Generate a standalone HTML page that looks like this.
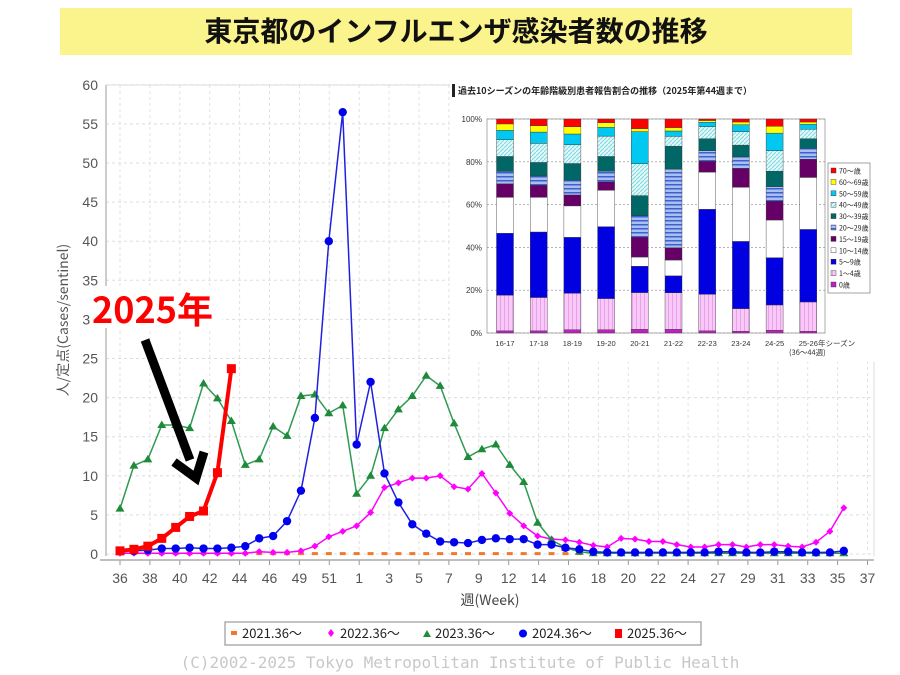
<!DOCTYPE html>
<html><head><meta charset="utf-8">
<style>
html,body{margin:0;padding:0;background:#fff;width:900px;height:675px;overflow:hidden}
svg{display:block;font-family:"Liberation Sans","Noto Sans CJK JP",sans-serif}
</style></head>
<body>
<svg id="s" width="900" height="675" viewBox="0 0 900 675" xmlns="http://www.w3.org/2000/svg">
<rect x="60" y="8" width="792" height="47" fill="#fbf38c"/>
<text x="456" y="41" text-anchor="middle" font-size="28" font-weight="bold" fill="#111" font-family="'Noto Sans CJK JP',sans-serif">東京都のインフルエンザ感染者数の推移</text>
<g id="grid"></g>
<g id="series"></g>
<text transform="translate(68,320) rotate(-90)" text-anchor="middle" font-size="14" fill="#555" font-family="'Noto Sans CJK JP',sans-serif">人/定点(Cases/sentinel)</text>
<text x="490" y="605" text-anchor="middle" font-size="14" fill="#444" font-family="'Noto Sans CJK JP',sans-serif">週(Week)</text>
<rect x="225" y="622" width="476" height="23" fill="#fff" stroke="#999" stroke-width="1.2"/>
<g font-size="13" fill="#222" font-family="'Noto Sans CJK JP',sans-serif">
<rect x="231" y="631" width="6" height="4" fill="#f07a2a"/><text x="242" y="638">2021.36〜</text>
<path d="M331 629 l3 4 -3 4 -3 -4z" fill="#f0f"/><text x="340" y="638">2022.36〜</text>
<path d="M427 630 l4 7 h-8z" fill="#228b3c"/><text x="435" y="638">2023.36〜</text>
<circle cx="523" cy="633.5" r="4" fill="#00f"/><text x="532" y="638">2024.36〜</text>
<rect x="615" y="629" width="7" height="9" fill="#f00"/><text x="627" y="638">2025.36〜</text>
</g>
<text x="460" y="668" text-anchor="middle" font-size="16" fill="#c8c8c8" font-family="'DejaVu Sans Mono',monospace">(C)2002-2025 Tokyo Metropolitan Institute of Public Health</text>
<g id="inset"></g>
<rect x="90" y="286" width="132" height="42" fill="#fff"/>
<text x="92" y="323" font-size="36" font-weight="bold" fill="#f00" font-family="'Noto Sans CJK JP',sans-serif">2025年</text>
<line x1="145" y1="340" x2="190" y2="460" stroke="#000" stroke-width="9"/>
<path d="M174 462 L196 478 L204 452" fill="none" stroke="#000" stroke-width="9" stroke-linejoin="miter"/>
</svg>
<script>
(function(){
var NS="http://www.w3.org/2000/svg";
function el(p,t,a,txt){var e=document.createElementNS(NS,t);for(var k in a)e.setAttribute(k,a[k]);if(txt!=null)e.textContent=txt;p.appendChild(e);return e;}
var g=document.getElementById('grid'),S=document.getElementById('series'),I=document.getElementById('inset');
function Y(v){return 554-v*7.82;}function X(i){return 120+13.92*i;}
for(var v=0;v<=60;v+=5){var y=Y(v);el(g,'line',{x1:106,x2:874,y1:y,y2:y,stroke:'#ddd','stroke-dasharray':'3,3'});el(g,'text',{x:98,y:y+5,'text-anchor':'end','font-size':14,fill:'#555'},v);}
var labs=[36,38,40,42,44,46,49,51,1,3,5,7,9,12,14,16,18,20,22,24,27,29,31,33,35,37];
for(var k=0;k<labs.length;k++){var x=120+k*29.9;el(g,'line',{x1:x,x2:x,y1:85,y2:554,stroke:'#e2e2e2','stroke-dasharray':'3,3'});el(g,'line',{x1:x,x2:x,y1:560,y2:565,stroke:'#999'});el(g,'text',{x:x,y:583,'text-anchor':'middle','font-size':14,fill:'#555'},labs[k]);}
el(g,'line',{x1:106,x2:106,y1:85,y2:556,stroke:'#bbb','stroke-width':1.5});
el(g,'line',{x1:874,x2:874,y1:85,y2:556,stroke:'#ddd'});
el(g,'line',{x1:106,x2:874,y1:85,y2:85,stroke:'#ddd'});
el(g,'line',{x1:100,x2:874,y1:560,y2:560,stroke:'#aaa','stroke-width':1.5});
var red=[0.4,0.6,1.0,2.0,3.4,4.8,5.5,10.4,23.7];
var blue=[0.4,0.4,0.5,0.7,0.7,0.8,0.7,0.7,0.8,1.0,2.0,2.3,4.2,8.1,17.4,40,56.5,14,22,10.3,6.6,3.8,2.6,1.6,1.5,1.4,1.8,2.0,1.9,1.9,1.2,1.2,0.8,0.6,0.3,0.2,0.2,0.2,0.2,0.2,0.2,0.2,0.2,0.3,0.3,0.2,0.2,0.3,0.3,0.2,0.2,0.2,0.4];
var green=[5.8,11.3,12.1,16.5,16.5,16.1,21.8,19.9,17.0,11.4,12.1,16.3,15.1,20.2,20.4,18.0,19.0,7.7,10.0,16.1,18.5,20.2,22.8,21.5,16.7,12.4,13.4,14.0,11.4,9.2,4.0,1.8,0.8,0.3,0.1,0.1,0.1,0.1,0.1,0.1,0.1,0.1,0.1,0.1,0.1,0.1,0.1,0.1,0.1,0.1,0.1,0.1,0.1];
var pink=[0.1,0.1,0.1,0.1,0.1,0.1,0.1,0.1,0.1,0.1,0.3,0.2,0.2,0.4,1.0,2.2,2.9,3.6,5.3,8.5,9.1,9.7,9.7,10.0,8.6,8.3,10.3,7.8,5.2,3.6,2.3,1.9,1.8,1.5,1.1,0.9,2.0,1.9,1.6,1.6,1.2,0.9,0.9,1.2,1.2,0.9,1.2,1.2,1.0,0.9,1.5,2.9,5.9];
for(var i=0;i<53;i++){el(S,'rect',{x:X(i)-3,y:Y(0.05)-1.5,width:6,height:3,fill:'#f07a2a'});}
function line(d,c,w){var p='';for(var i=0;i<d.length;i++)p+=(i?'L':'M')+X(i).toFixed(1)+' '+Y(d[i]).toFixed(1);el(S,'path',{d:p,fill:'none',stroke:c,'stroke-width':w});}
line(pink,'#f0f',1.5);for(var i=0;i<pink.length;i++){var x=X(i),y=Y(pink[i]);el(S,'path',{d:'M'+x+' '+(y-3.5)+'l3.5 3.5-3.5 3.5-3.5-3.5z',fill:'#f0f'});}
line(green,'#2e9a52',1.5);for(var i=0;i<green.length;i++){var x=X(i),y=Y(green[i]);el(S,'path',{d:'M'+x+' '+(y-4.5)+'l4.5 7.5h-9z',fill:'#1f8a3a'});}
line(blue,'#2020e0',1.5);for(var i=0;i<blue.length;i++){el(S,'circle',{cx:X(i),cy:Y(blue[i]),r:4.2,fill:'#0000ee'});}
line(red,'#f00',4);for(var i=0;i<red.length;i++){el(S,'rect',{x:X(i)-4.5,y:Y(red[i])-4.5,width:9,height:9,fill:'#f00'});}
el(I,'rect',{x:450,y:82,width:432,height:280,fill:'#fff'});
el(I,'rect',{x:452,y:84,width:3,height:13,fill:'#222'});
el(I,'text',{x:458,y:94,'font-size':9,'font-weight':'bold',fill:'#222','font-family':"'Noto Sans CJK JP',sans-serif"},'過去10シーズンの年齢階級別患者報告割合の推移（2025年第44週まで）');
var defs=el(I,'defs',{});
function pat(id,bg,fg,vert){var p=el(defs,'pattern',{id:id,width:4,height:4,patternUnits:'userSpaceOnUse'});el(p,'rect',{width:4,height:4,fill:bg});if(vert==1)el(p,'rect',{x:0,y:0,width:1,height:4,fill:fg});else if(vert==2)el(p,'path',{d:'M0 4L4 0',stroke:fg,'stroke-width':1});else el(p,'rect',{x:0,y:0,width:4,height:1.5,fill:fg});}
pat('pk','#f8c8f8','#e8a0e8',1);pat('st','#a8c0f0','#4060d0',0);pat('cy','#e0f8f8','#80d8e0',2);
var cols=['#c020c0','url(#pk)','#0000e0','#ffffff','#660066','url(#st)','#006666','url(#cy)','#00c8f0','#ffff00','#ff0000'];
var names=['0歳','1〜4歳','5〜9歳','10〜14歳','15〜19歳','20〜29歳','30〜39歳','40〜49歳','50〜59歳','60〜69歳','70〜歳'];
var bars=[[1,17.7,46.6,63.4,69.7,75.5,82.5,90.3,94.7,97.7,100],[1,16.6,47.2,63.4,69,73.4,79.7,88.6,93.9,96.9,100],[1.5,18.6,44.7,59.4,64.5,71.4,79.2,88,93,96.4,100],[1.5,16.1,49.7,66.7,70.6,75.6,82.5,92,96.1,98.3,100],[1.7,18.9,31.2,35.5,44.8,54.8,64.2,79.1,94.1,95.5,100],[1.7,18.8,26.7,34.1,39.8,76.6,87.3,91.9,94.4,96,100],[1,18.1,57.8,75.2,80.2,85.2,90.8,96.4,98.5,99.3,100],[0.8,11.4,42.8,68.1,76.9,82.3,87.8,94.1,97.3,98.6,100],[1.3,13.1,35.2,52.8,61.6,68.4,75.6,85.2,93.4,96.6,100],[0.8,14.5,48.4,72.7,81.2,86.3,90.8,95.2,97.5,98.6,100]];
var seas=['16-17','17-18','18-19','19-20','20-21','21-22','22-23','23-24','24-25','25-26'];
function PY(p){return 333-p*2.14;}
el(I,'rect',{x:487,y:119,width:338,height:214,fill:'#fff',stroke:'#999','stroke-width':0.8});
for(var pc=0;pc<=100;pc+=20){el(I,'line',{x1:487,x2:825,y1:PY(pc),y2:PY(pc),stroke:'#888','stroke-dasharray':'2,2','stroke-width':0.6});el(I,'text',{x:482,y:PY(pc)+3,'text-anchor':'end','font-size':8,fill:'#333'},pc+'%');}
for(var b=0;b<10;b++){var cx=505+b*33.7,prev=0;for(var s=0;s<11;s++){var tp=bars[b][s];el(I,'rect',{x:cx-8.5,y:PY(tp),width:17,height:Math.max(0,PY(prev)-PY(tp)),fill:cols[s],stroke:'#333','stroke-width':0.4});prev=tp;}
el(I,'text',{x:cx,y:346,'text-anchor':'middle','font-size':7.5,fill:'#333'},seas[b]);}
el(I,'text',{x:818,y:346,'font-size':7.5,fill:'#333','font-family':"'Noto Sans CJK JP',sans-serif"},'年シーズン');
el(I,'text',{x:789,y:355,'font-size':7.5,fill:'#333','font-family':"'Noto Sans CJK JP',sans-serif"},'(36〜44週)');
el(I,'rect',{x:828,y:163,width:42,height:130,fill:'#fff',stroke:'#666','stroke-width':0.6});
for(var s=10;s>=0;s--){var yy=168+(10-s)*11.4;el(I,'rect',{x:831,y:yy,width:5,height:5,fill:cols[s],stroke:'#333','stroke-width':0.4});el(I,'text',{x:839,y:yy+5.5,'font-size':7,fill:'#222','font-family':"'Noto Sans CJK JP',sans-serif"},names[s]);}
})();
</script>
</body></html>
